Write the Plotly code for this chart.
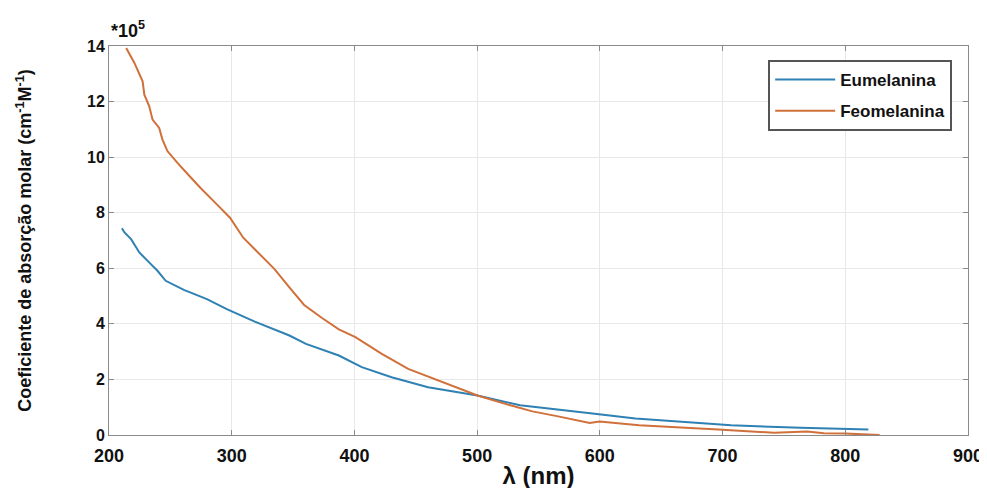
import plotly.graph_objects as go

# Feomelanina (orange)
feo_wl = [214, 220.7, 227.4, 228.8, 232.8, 235.5, 240.9, 243.5, 247.6, 255.6, 265, 274.4,
          287.9, 298.6, 309.4, 322.8, 334.9, 347, 359, 373.9, 387.3, 400.8, 422.3, 443.8,
          468, 481.5, 500.3, 527, 545, 565, 591.7, 599.7, 632, 696.5, 742, 769, 782.5, 800, 828]
feo_val = [13.93, 13.39, 12.73, 12.25, 11.83, 11.35, 11.05, 10.64, 10.22, 9.8, 9.35, 8.9,
           8.3, 7.82, 7.1, 6.51, 5.97, 5.31, 4.68, 4.2, 3.8, 3.52, 2.92, 2.38,
           1.96, 1.75, 1.42, 1.07, 0.85, 0.68, 0.43, 0.49, 0.35, 0.2, 0.08, 0.13, 0.06, 0.05, 0.0]

# Eumelanina (blue)
eu_wl = [210.5, 212.6, 218, 220.7, 224.7, 234.1, 239.5, 246.2, 261, 279.8, 296, 318.8,
         347, 360.5, 387.3, 406, 430.3, 460, 481.5, 500.2, 535, 562, 594, 629, 707, 763.7, 818.8]
eu_val = [7.44, 7.29, 7.05, 6.87, 6.57, 6.15, 5.91, 5.55, 5.22, 4.89, 4.53, 4.08,
          3.58, 3.28, 2.86, 2.44, 2.08, 1.72, 1.57, 1.42, 1.07, 0.94, 0.77, 0.59, 0.35, 0.26, 0.2]

x_ticks = [200, 300, 400, 500, 600, 700, 800, 900]
y_ticks = [0, 2, 4, 6, 8, 10, 12, 14]

FONT = "Liberation Sans, Arial, sans-serif"

fig = go.Figure()
fig.add_trace(go.Scatter(x=eu_wl, y=eu_val, mode="lines", name="Eumelanina",
                         legendgroup="eu",
                         line=dict(color="#2f80b3", width=2)))
fig.add_trace(go.Scatter(x=feo_wl, y=feo_val, mode="lines", name="Feomelanina",
                         legendgroup="feo",
                         line=dict(color="#d0703a", width=2)))

axis_common = dict(showline=True, linecolor="#8a8a8a", linewidth=1, mirror="ticks",
                   ticks="inside", ticklen=5, tickcolor="#8a8a8a",
                   showgrid=True, gridcolor="#e8e8e8", gridwidth=1, zeroline=False)

fig.update_xaxes(range=[200, 900], tickvals=x_ticks,
                 tickfont=dict(family=FONT, size=18, color="#111", weight="bold"),
                 ticklabelstandoff=4,
                 title=dict(text="<b>λ (nm)</b>", font=dict(family=FONT, size=24, color="#111"), standoff=2),
                 **axis_common)
fig.update_yaxes(range=[0, 14], tickvals=y_ticks,
                 tickfont=dict(family=FONT, size=16, color="#111", weight="bold"),
                 title=dict(text="<b>Coeficiente de absorção molar (cm<sup>-1</sup>M<sup>-1</sup>)</b>",
                            font=dict(family=FONT, size=18, color="#111"), standoff=50),
                 **axis_common)

fig.add_annotation(text="<b>*10<sup>5</sup></b>", xref="paper", yref="paper", x=0.0, y=1.0,
                   xanchor="left", yanchor="bottom", yshift=3, showarrow=False,
                   font=dict(family=FONT, size=18, color="#111"))

fig.update_layout(
    width=987, height=488,
    margin=dict(l=101, r=20, t=38, b=59),
    paper_bgcolor="white", plot_bgcolor="white",
    font=dict(family=FONT, color="#111"),
    legend=dict(x=0.9816, y=0.964, xanchor="right", yanchor="top",
                bgcolor="white", bordercolor="#555", borderwidth=2,
                font=dict(family=FONT, size=17, color="#111", weight="bold"),
                tracegroupgap=6, itemwidth=60),
    showlegend=True,
)

fig.write_html("out.html")
